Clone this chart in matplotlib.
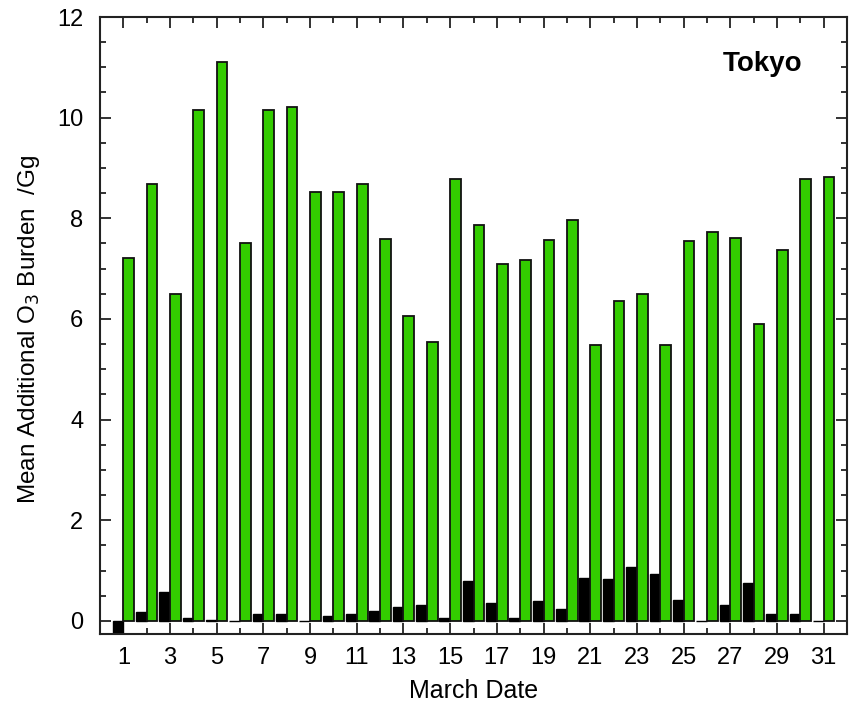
import matplotlib
matplotlib.use("Agg")
import matplotlib.pyplot as plt
from matplotlib.ticker import MultipleLocator, FixedLocator

plt.rcParams['font.family'] = ['Liberation Sans', 'DejaVu Sans']

# March dates and mean additional O3 burden (Gg)
days = list(range(1, 32))
burden_black = [-0.30, 0.17, 0.57, 0.05, 0.02, 0.00, 0.13, 0.13, 0.00, 0.09,
                0.13, 0.20, 0.27, 0.31, 0.05, 0.79, 0.35, 0.05, 0.39, 0.23,
                0.86, 0.83, 1.08, 0.94, 0.42, 0.00, 0.31, 0.76, 0.13, 0.13,
                0.00]
burden_green = [7.21, 8.68, 6.50, 10.15, 11.10, 7.50, 10.15, 10.22, 8.53, 8.53,
                8.68, 7.58, 6.06, 5.55, 8.78, 7.87, 7.10, 7.18, 7.57, 7.97,
                5.48, 6.36, 6.50, 5.48, 7.54, 7.72, 7.61, 5.89, 7.38, 8.78,
                8.82]
xtick_labels = [str(d) for d in range(1, 32, 2)]

W, H = 852, 705
fig = plt.figure(figsize=(W / 100, H / 100), dpi=100)
ax = fig.add_axes([100 / W, 1 - 634 / H, 747 / W, 617 / H])

w = 0.46
ax.bar(days, burden_black, width=-w, align='edge', color='black',
       edgecolor='black', linewidth=1.0, zorder=2)
ax.bar(days, burden_green, width=w, align='edge', color='#33cc00',
       edgecolor='#111111', linewidth=1.3, zorder=2)

ax.set_xlim(0, 32)
ax.set_ylim(-0.26, 12)

ax.xaxis.set_major_locator(FixedLocator(range(1, 32, 2)))
ax.set_xticklabels(xtick_labels)
ax.xaxis.set_minor_locator(FixedLocator(range(2, 32, 2)))
ax.yaxis.set_major_locator(MultipleLocator(2))
ax.yaxis.set_minor_locator(MultipleLocator(0.5))

ax.tick_params(which='both', direction='in', top=True, right=True,
               width=1.3, colors='#222222', labelcolor='black', labelsize=17)
ax.tick_params(which='major', length=8)
ax.tick_params(which='minor', length=4)
ax.tick_params(axis='x', which='major', pad=9)
ax.tick_params(axis='y', which='major', pad=12)

for sp in ax.spines.values():
    sp.set_linewidth(1.5)
    sp.set_color('#222222')

# axis titles placed in pixel coordinates of the figure
fig.text(474 / W, 1 - 698 / H, 'March Date', fontsize=18,
         ha='center', va='baseline')
fig.text(35 / W, 1 - 329 / H, 'Mean Additional O$_3$ Burden  /Gg',
         fontsize=17.5, rotation=90, rotation_mode='anchor',
         ha='center', va='baseline')

fig.text(762.5 / W, 1 - 71 / H, 'Tokyo', fontsize=20, fontweight='bold',
         ha='center', va='baseline')

fig.savefig('out.png', dpi=100)
